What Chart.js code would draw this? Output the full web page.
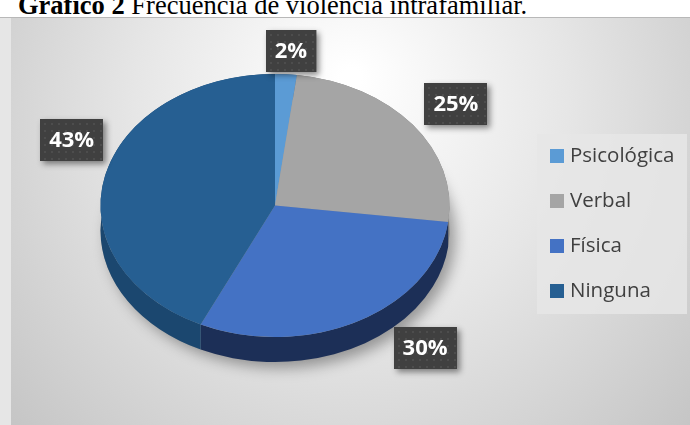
<!DOCTYPE html>
<html>
<head>
<meta charset="utf-8">
<script src="https://cdn.jsdelivr.net/npm/chart.js@4"></script>
<style>
  body { margin: 0; width: 690px; height: 425px; overflow: hidden; background: #fff; position: relative; }
  #title { position: absolute; left: 18px; top: -8px; font-family: "Liberation Serif", "Times New Roman", serif; font-size: 26.5px; line-height: 26.5px; color: #000; white-space: nowrap; }
  #wrap { position: absolute; left: 0; top: 17px; width: 690px; height: 408px; background: #e6e6e6; border-top: 1px solid #b8b8b8; box-sizing: border-box; }
  #box { position: absolute; left: 11px; top: 0; width: 679px; height: 407px; }
</style>
</head>
<body>
<div id="title"><b>Gráfico 2</b> Frecuencia de violencia intrafamiliar.</div>
<div id="wrap"><div id="box"><canvas id="pieChart"></canvas></div></div>
<script>
// data
const categories = ['Psicológica', 'Verbal', 'Física', 'Ninguna'];
const percents = [2, 25, 30, 43];

// look
const topColors = ['#5B9BD5', '#A5A5A5', '#4472C4', '#265F92'];
const sideColors = ['#3a6e9e', '#7a7a7a', '#1c2f57', '#1b476f'];
const tilt = 0.754;   // vertical squash of the pie
const depth = 25;     // thickness of the pie in px
const labelNudge = [[5, -23], [43, -21], [66, 27], [-33, -37]];

// background gradient
const bgPlugin = {
  id: 'bg',
  beforeDraw(chart) {
    const ctx = chart.ctx;
    const g = ctx.createRadialGradient(340, 60, 10, 340, 120, 470);
    g.addColorStop(0, '#ffffff');
    g.addColorStop(0.45, '#e6e6e6');
    g.addColorStop(1, '#c2c2c2');
    ctx.save();
    ctx.fillStyle = g;
    ctx.fillRect(0, 0, chart.width, chart.height);
    ctx.restore();
  }
};

// fake 3D: draw side walls, then squash the top face
const tiltPlugin = {
  id: 'tilt',
  beforeDatasetsDraw(chart) {
    const ctx = chart.ctx;
    const arcs = chart.getDatasetMeta(0).data;
    const cx = arcs[0].x, cy = arcs[0].y, r = arcs[0].outerRadius;

    // soft shadow under the pie
    ctx.save();
    ctx.shadowColor = 'rgba(0,0,0,0.35)';
    ctx.shadowBlur = 14;
    ctx.shadowOffsetX = 6;
    ctx.shadowOffsetY = 6;
    ctx.fillStyle = '#999';
    ctx.beginPath();
    ctx.ellipse(cx, cy + depth, r, r * tilt, 0, 0, Math.PI * 2);
    ctx.fill();
    ctx.restore();

    // side walls, lighter toward the left like the reference
    const sideGrad = (c) => {
      const g = ctx.createLinearGradient(cx - r, 0, cx + r, 0);
      g.addColorStop(0, c);
      g.addColorStop(1, c);
      return g;
    };
    arcs.forEach((a, i) => {
      ctx.save();
      ctx.fillStyle = sideGrad(sideColors[i]);
      ctx.beginPath();
      ctx.ellipse(cx, cy, r, r * tilt, 0, a.startAngle, a.endAngle);
      ctx.ellipse(cx, cy + depth, r, r * tilt, 0, a.endAngle, a.startAngle, true);
      ctx.closePath();
      ctx.fill();
      ctx.restore();
    });

    ctx.save();
    ctx.translate(cx, cy);
    ctx.scale(1, tilt);
    ctx.translate(-cx, -cy);
  },
  afterDatasetsDraw(chart) {
    chart.ctx.restore();
  }
};

// dark percentage boxes
const labelPlugin = {
  id: 'pctLabels',
  afterDatasetsDraw(chart) {
    const ctx = chart.ctx;
    const arcs = chart.getDatasetMeta(0).data;
    ctx.save();
    ctx.font = 'bold 22px "Open Sans", sans-serif';
    ctx.textAlign = 'center';
    ctx.textBaseline = 'middle';
    arcs.forEach((a, i) => {
      const mid = (a.startAngle + a.endAngle) / 2;
      const x = a.x + Math.cos(mid) * a.outerRadius + labelNudge[i][0];
      const y = a.y + Math.sin(mid) * a.outerRadius * tilt + labelNudge[i][1];
      const txt = percents[i] + '%';
      const w = ctx.measureText(txt).width + 18, h = 42;
      const bx = Math.round(x - w / 2), by = Math.round(y - h / 2);
      ctx.save();
      ctx.shadowColor = 'rgba(0,0,0,0.45)';
      ctx.shadowBlur = 6;
      ctx.shadowOffsetX = 3;
      ctx.shadowOffsetY = 3;
      ctx.fillStyle = '#404040';
      ctx.fillRect(bx, by, w, h);
      ctx.restore();
      // faint dot texture
      ctx.fillStyle = 'rgba(255,255,255,0.07)';
      for (let dy = 4; dy < h; dy += 7) {
        for (let dx = 4; dx < w; dx += 7) {
          ctx.fillRect(bx + dx, by + dy, 2, 2);
        }
      }
      ctx.fillStyle = '#ffffff';
      ctx.fillText(txt, x, y + 1);
    });
    ctx.restore();
  }
};

// legend panel on the right
const legendPlugin = {
  id: 'sideLegend',
  afterDraw(chart) {
    const ctx = chart.ctx;
    const lx = 526, ly = 116, lw = 150, lh = 180;
    ctx.save();
    ctx.fillStyle = 'rgba(230,230,230,0.85)';
    ctx.fillRect(lx, ly, lw, lh);
    ctx.font = '20.5px "Open Sans", sans-serif';
    ctx.textBaseline = 'middle';
    chart.data.labels.forEach((lab, i) => {
      const y = ly + 22 + i * 45;
      ctx.fillStyle = chart.data.datasets[0].backgroundColor[i];
      ctx.fillRect(lx + 13, y - 7, 14, 14);
      ctx.fillStyle = '#404040';
      ctx.fillText(lab, lx + 33, y);
    });
    ctx.restore();
  }
};

const ctx = document.getElementById('pieChart').getContext('2d');
const chart = new Chart(ctx, {
  type: 'pie',
  data: {
    labels: categories,
    datasets: [{
      data: percents,
      backgroundColor: topColors,
      borderWidth: 0
    }]
  },
  options: {
    responsive: true,
    maintainAspectRatio: false,
    animation: false,
    layout: { padding: { left: 89, right: 240, top: 13, bottom: 45 } },
    plugins: {
      legend: { display: false },
      tooltip: { enabled: false }
    }
  },
  plugins: [bgPlugin, tiltPlugin, labelPlugin, legendPlugin]
});
</script>
</body>
</html>
